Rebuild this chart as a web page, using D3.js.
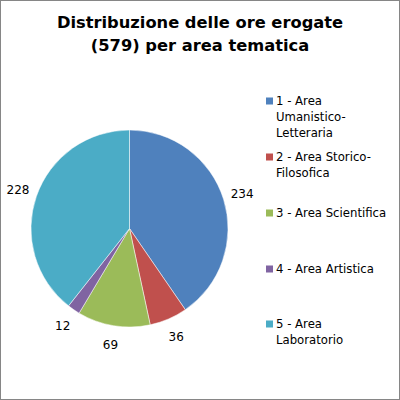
<!DOCTYPE html>
<html>
<head>
<meta charset="utf-8">
<script src="https://cdn.jsdelivr.net/npm/d3@7"></script>
<style>
  body { margin: 0; background: #fff; }
  svg { display: block; }
</style>
</head>
<body>
<svg></svg>
<script>
let width = 400;
let height = 400;

// data
let categories = ["1 - Area Umanistico-Letteraria", "2 - Area Storico-Filosofica", "3 - Area Scientifica", "4 - Area Artistica", "5 - Area Laboratorio"];
let values = [234, 36, 69, 12, 228];
let legendLines = [["1 - Area", "Umanistico-", "Letteraria"], ["2 - Area Storico-", "Filosofica"], ["3 - Area Scientifica"], ["4 - Area Artistica"], ["5 - Area", "Laboratorio"]];
let colors = ["#4F81BD", "#C0504D", "#9BBB59", "#8064A2", "#4BACC6"];
let titleLines = ["Distribuzione delle ore erogate", "(579) per area tematica"];

let font = "Verdana, 'DejaVu Sans', sans-serif";
let svg = d3.select('svg').attr('width', width).attr('height', height);

// frame
svg.append('rect')
    .attr('x', 0.5).attr('y', 0.5)
    .attr('width', width - 1).attr('height', height - 1)
    .attr('fill', '#fff').attr('stroke', '#868686');

// title
svg.append('text')
    .attr('text-anchor', 'middle')
    .attr('font-family', font)
    .attr('font-weight', 'bold')
    .attr('font-size', 16.3)
    .selectAll('tspan').data(titleLines).join('tspan')
    .attr('x', 200)
    .attr('y', (d, i) => 28 + i * 22.5)
    .text(d => d);

// pie
let cx = 129.5, cy = 228.5, r = 98.5;
let pie = d3.pie().sort(null).value(d => d);
let arcs = pie(values);
let arc = d3.arc().innerRadius(0).outerRadius(r);
let labelArc = d3.arc().innerRadius(118).outerRadius(118);

let g = svg.append('g').attr('transform', 'translate(' + cx + ',' + cy + ')');
g.selectAll('path').data(arcs).join('path')
    .attr('d', arc)
    .attr('fill', (d, i) => colors[i])
    .attr('stroke', '#fff')
    .attr('stroke-width', 0.5);

g.selectAll('text').data(arcs).join('text')
    .attr('x', d => labelArc.centroid(d)[0])
    .attr('y', d => labelArc.centroid(d)[1])
    .attr('dy', '0.35em')
    .attr('text-anchor', 'middle')
    .attr('font-family', font)
    .attr('font-size', 12)
    .attr('fill', '#000')
    .text(d => d.data);

// legend
let legendY = [101, 157, 213, 269, 324];
let legend = svg.append('g');
let items = legend.selectAll('g').data(categories).join('g')
    .attr('transform', (d, i) => 'translate(266,' + legendY[i] + ')');
items.append('rect')
    .attr('x', 0).attr('y', -3.5)
    .attr('width', 7).attr('height', 7)
    .attr('fill', (d, i) => colors[i]);
items.append('text')
    .attr('font-family', font)
    .attr('font-size', 11.7)
    .attr('fill', '#000')
    .selectAll('tspan').data((d, i) => legendLines[i]).join('tspan')
    .attr('x', 10)
    .attr('y', (d, j) => j * 16)
    .attr('dy', '0.35em')
    .text(d => d);
</script>
</body>
</html>
